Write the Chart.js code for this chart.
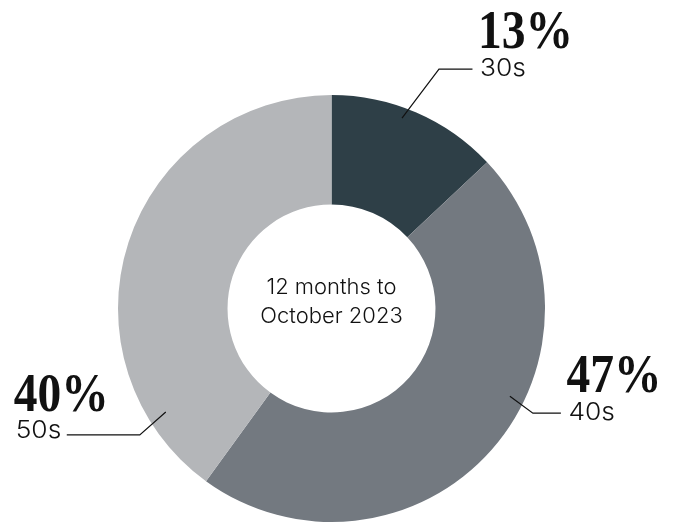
<!DOCTYPE html>
<html>
<head>
<meta charset="utf-8">
<script src="https://cdn.jsdelivr.net/npm/chart.js@4"></script>
<style>
  html, body { margin: 0; padding: 0; background: #ffffff; }
  #wrap { width: 682px; height: 525px; position: relative; }
</style>
</head>
<body>
<div id="wrap"><canvas id="c" width="682" height="525"></canvas></div>
<script>
// ---- data ----
const categories = ["30s", "40s", "50s"];
const shares = [13, 47, 40];
const percentLabels = ["13%", "47%", "40%"];
const centerLines = ["12 months to", "October 2023"];

// ---- styling / layout (not data) ----
const colors = ["#2e3f47", "#737980", "#b4b6b9"];
// leader anchor: fraction along the slice's angle span, radius fraction; elbow offset; horizontal run
const leaderLayout = [
  { frac: 0.434, rFrac: 0.951, ex: 37,  ey: -49, run: 33.5, side: "right" },
  { frac: 0.41,  rFrac: 0.931, ex: 23,  ey: 17,  run: 28,   side: "right" },
  { frac: 0.153, rFrac: 0.915, ex: -26, ey: 23,  run: -73,  side: "left" }
];
const catScale = 1.1;
const pctScale = 0.88;

const labelPlugin = {
  id: "labelPlugin",
  afterDatasetsDraw(chart) {
    const ctx = chart.ctx;
    const meta = chart.getDatasetMeta(0);
    meta.data.forEach((arc, i) => {
      const p = arc.getProps(["x", "y", "startAngle", "endAngle", "outerRadius"], true);
      const L = leaderLayout[i];
      const a = p.startAngle + (p.endAngle - p.startAngle) * L.frac;
      const r = p.outerRadius * L.rFrac;
      const ax = p.x + Math.cos(a) * r;
      const ay = p.y + Math.sin(a) * r;
      const bx = ax + L.ex, by = ay + L.ey;
      const cx = bx + L.run, cy = by;
      ctx.save();
      ctx.strokeStyle = "#111111";
      ctx.lineWidth = 1.2;
      ctx.beginPath();
      ctx.moveTo(ax, ay);
      ctx.lineTo(bx, by);
      ctx.lineTo(cx, cy);
      ctx.stroke();

      ctx.fillStyle = "#111111";
      ctx.font = "300 24px Inter";
      ctx.textBaseline = "middle";
      ctx.textAlign = "left";
      const w = ctx.measureText(categories[i]).width * catScale;
      let left;
      if (L.side === "right") left = cx + 7.5;
      else left = cx - 5.5 - w;
      ctx.save();
      ctx.translate(left, cy - (L.side === "left" ? 4 : 0));
      ctx.scale(catScale, 1);
      ctx.fillText(categories[i], 0, 0);
      ctx.restore();

      // percentage
      ctx.font = "bold 54px 'Liberation Serif'";
      ctx.textBaseline = "alphabetic";
      const pLeft = left - 2;
      const pBase = cy - (L.side === "left" ? 24 : 21.5);
      ctx.translate(pLeft, pBase);
      ctx.scale(pctScale, 1);
      ctx.fillText(percentLabels[i], 0, 0);
      ctx.restore();
    });

    // center text
    const a0 = meta.data[0];
    ctx.save();
    ctx.fillStyle = "#111111";
    ctx.font = "300 22px Inter";
    ctx.textAlign = "center";
    ctx.textBaseline = "alphabetic";
    ctx.fillText(centerLines[0], a0.x, a0.y - 14.5);
    ctx.fillText(centerLines[1], a0.x, a0.y + 14.2);
    ctx.restore();
  }
};

new Chart(document.getElementById("c"), {
  type: "doughnut",
  data: {
    labels: categories,
    datasets: [{
      data: shares,
      backgroundColor: colors,
      borderWidth: 0,
      hoverOffset: 0
    }]
  },
  options: {
    responsive: false,
    animation: false,
    cutout: "48.7%",
    layout: { padding: { top: 95, left: 118, right: 137, bottom: 3 } },
    plugins: {
      legend: { display: false },
      tooltip: { enabled: false }
    },
    events: []
  },
  plugins: [labelPlugin]
});
</script>
</body>
</html>
